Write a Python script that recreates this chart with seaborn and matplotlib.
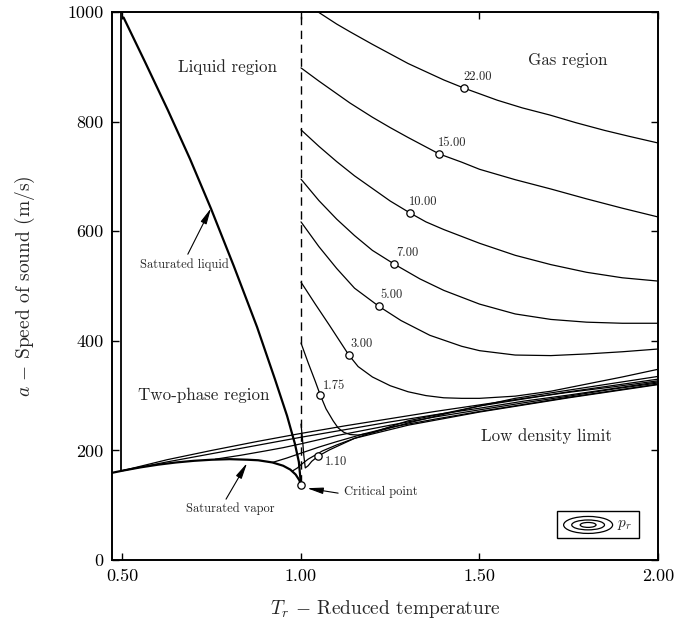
import matplotlib
matplotlib.use("Agg")
import matplotlib.pyplot as plt
from matplotlib.patches import Rectangle, Ellipse
import seaborn as sns
import pandas as pd

# ---------------- data: reduced temperature Tr vs speed of sound a (m/s) ----------------
# saturation dome
sat_liq_tr = [0.503, 0.563, 0.627, 0.689, 0.748, 0.812, 0.877, 0.927, 0.961, 0.983, 0.994, 1.0]
sat_liq_a = [990, 909, 821, 732, 641, 536, 425, 330, 263, 212, 179, 137]
sat_vap_tr = [0.47, 0.50, 0.55, 0.60, 0.65, 0.70, 0.75, 0.80, 0.85, 0.88, 0.92,
              0.95, 0.97, 0.985, 0.995, 1.0]
sat_vap_a = [159, 163, 169, 174, 178, 181, 183, 184, 183, 182, 178,
             172, 165, 156, 146, 137]

# triple-line boundary of the two-phase region
triple_tr = [0.497, 0.497]
triple_a = [163, 1000]

# supercritical isobars, labelled by reduced pressure
iso_labels = ["1.10", "1.75", "3.00", "5.00", "7.00", "10.00", "15.00", "22.00"]
iso_110_tr = [1.0, 1.004, 1.008, 1.012, 1.02, 1.03, 1.049, 1.08, 1.15, 1.3, 1.5, 1.75, 2.0]
iso_110_a = [248, 222, 190, 168, 172, 180, 190, 201, 222, 254, 281, 307, 330]
iso_175_tr = [1.0, 1.02, 1.04, 1.054, 1.07, 1.09, 1.104, 1.12, 1.137, 1.16, 1.2,
              1.3, 1.4, 1.5, 1.6, 1.75, 1.9, 2.0]
iso_175_a = [396, 360, 326, 301, 276, 254, 241, 233, 229, 228, 232,
             250, 266, 281, 295, 310, 325, 335]
iso_300_tr = [1.0, 1.04, 1.08, 1.11, 1.134, 1.16, 1.2, 1.25, 1.3, 1.35, 1.4, 1.45,
              1.5, 1.6, 1.7, 1.8, 1.9, 2.0]
iso_300_a = [507, 467, 428, 398, 374, 353, 334, 318, 307, 300, 296, 295,
             295, 299, 308, 321, 334, 348]
iso_500_tr = [1.0, 1.05, 1.1, 1.15, 1.218, 1.28, 1.361, 1.45, 1.5, 1.6, 1.7, 1.8, 1.9, 2.0]
iso_500_a = [617, 572, 532, 496, 463, 437, 410, 390, 382, 374, 373, 376, 380, 385]
iso_700_tr = [1.0, 1.05, 1.1, 1.15, 1.2, 1.261, 1.333, 1.4, 1.5, 1.6, 1.7, 1.8, 1.9, 2.0]
iso_700_a = [695, 656, 622, 592, 565, 540, 513, 492, 467, 449, 439, 434, 432, 432]
iso_1000_tr = [1.0, 1.05, 1.1, 1.15, 1.2, 1.25, 1.306, 1.35, 1.4, 1.5, 1.6, 1.7,
               1.8, 1.9, 2.0]
iso_1000_a = [785, 755, 727, 701, 678, 655, 633, 617, 603, 578, 556, 539,
              525, 515, 509]
iso_1500_tr = [1.0, 1.05, 1.1, 1.137, 1.2, 1.25, 1.3, 1.387, 1.45, 1.5, 1.6, 1.7,
               1.8, 1.9, 2.0]
iso_1500_a = [898, 874, 851, 834, 808, 789, 771, 741, 726, 713, 694, 677,
              659, 642, 626]
iso_2200_tr = [1.0, 1.048, 1.1, 1.137, 1.2, 1.3, 1.4, 1.457, 1.55, 1.62, 1.697,
               1.77, 1.85, 1.92, 2.0]
iso_2200_a = [1022, 1000, 978, 964, 941, 906, 876, 861, 839, 825, 812,
              798, 784, 773, 761]

# marked point on each isobar
mark_tr = [1.049, 1.054, 1.134, 1.218, 1.261, 1.306, 1.387, 1.457]
mark_a = [190, 301, 374, 463, 540, 633, 741, 861]

# subcritical vapour isobars and the low-density (ideal gas) limit
low_tr = [0.5, 0.625, 0.75, 0.875, 1.0, 1.125, 1.25, 1.375, 1.5, 1.625, 1.75, 1.875, 2.0]
low_a = [163, 183, 200, 216, 231, 245, 258, 271, 283, 295, 306, 316, 327]
sub1_tr = [0.5, 0.625, 0.75, 0.875, 1.0, 1.125, 1.25, 1.375, 1.5, 1.625, 1.75, 1.875, 2.0]
sub1_a = [163, 179, 194, 209, 224, 238, 252, 265, 277, 290, 301, 313, 325]
sub2_tr = [0.76, 0.83, 0.9, 0.95, 1.0, 1.1, 1.25, 1.375, 1.5, 1.625, 1.75, 1.875, 2.0]
sub2_a = [184, 191, 199, 205, 212, 227, 246, 261, 274, 287, 299, 312, 323]
sub3_tr = [0.92, 0.96, 1.0, 1.05, 1.1, 1.175, 1.25, 1.375, 1.5, 1.625, 1.75, 1.875, 2.0]
sub3_a = [178, 186, 195, 206, 216, 230, 242, 257, 271, 284, 297, 309, 321]
sub4_tr = [0.975, 0.99, 1.0, 1.02, 1.06, 1.1, 1.15, 1.3, 1.5, 1.75, 2.0]
sub4_a = [162, 168, 174, 184, 199, 210, 222, 246, 270, 296, 320]

# ---------------- styling ----------------
sns.set_theme(style="ticks")
plt.rcParams["font.family"] = ["cmr10", "DejaVu Serif"]
plt.rcParams["mathtext.fontset"] = "cm"
plt.rcParams["axes.formatter.use_mathtext"] = True
plt.rcParams["axes.unicode_minus"] = False

fig = plt.figure(figsize=(6.78, 6.26), dpi=100)
ax = fig.add_axes([112 / 678, 1 - 560 / 626, 546 / 678, 548 / 626])

K = "black"


def curve(tr, a, lw, **kw):
    df = pd.DataFrame({"Tr": tr, "a": a})
    sns.lineplot(data=df, x="Tr", y="a", ax=ax, color=K, lw=lw,
                 sort=False, estimator=None, **kw)


# saturation dome and triple line
curve(sat_liq_tr, sat_liq_a, 1.6)
curve(sat_vap_tr, sat_vap_a, 1.6)
curve(triple_tr, triple_a, 1.3)

# critical isotherm
curve([1.0, 1.0], [140, 1000], 1.0, linestyle=(0, (6, 4)))

# vapour isobars and low density limit
for tr, a in [(low_tr, low_a), (sub1_tr, sub1_a), (sub2_tr, sub2_a),
              (sub3_tr, sub3_a), (sub4_tr, sub4_a)]:
    curve(tr, a, 0.9)

# supercritical isobars
iso_tr = [iso_110_tr, iso_175_tr, iso_300_tr, iso_500_tr,
          iso_700_tr, iso_1000_tr, iso_1500_tr, iso_2200_tr]
iso_a = [iso_110_a, iso_175_a, iso_300_a, iso_500_a,
         iso_700_a, iso_1000_a, iso_1500_a, iso_2200_a]
for tr, a in zip(iso_tr, iso_a):
    curve(tr, a, 0.9)

# markers and pressure labels
sns.scatterplot(x=mark_tr, y=mark_a, ax=ax, s=28, facecolor="white",
                edgecolor=K, linewidth=0.9, zorder=5)
for lab, x, y in zip(iso_labels, mark_tr, mark_a):
    if lab == "1.10":
        ax.annotate(lab, (x, y), textcoords="offset pixels", xytext=(6, -6),
                    ha="left", va="center", fontsize=9)
    elif lab == "1.75":
        ax.annotate(lab, (x, y), textcoords="offset pixels", xytext=(3, 9),
                    ha="left", va="center", fontsize=9)
    else:
        ax.annotate(lab, (x, y), textcoords="offset pixels", xytext=(13, 11),
                    ha="center", va="center", fontsize=9)

# critical point
sns.scatterplot(x=[1.0], y=[137], ax=ax, s=28, facecolor="white",
                edgecolor=K, linewidth=0.9, zorder=6)

# region labels
ax.text(0.794, 900, "Liquid region", ha="center", va="center", fontsize=12.2)
ax.text(1.746, 911, "Gas region", ha="center", va="center", fontsize=12.2)
ax.text(0.727, 301, "Two-phase region", ha="center", va="center", fontsize=12.2)
ax.text(1.688, 226, "Low density limit", ha="center", va="center", fontsize=12.2)

arrow = dict(arrowstyle="-|>,head_length=0.8,head_width=0.16", color=K,
             lw=0.8, shrinkA=0, shrinkB=0)
ax.text(0.672, 538, "Saturated liquid", ha="center", va="center", fontsize=9)
ax.annotate("", xy=(0.748, 642), xytext=(0.683, 558), arrowprops=arrow)
ax.text(0.801, 93, "Saturated vapor", ha="center", va="center", fontsize=9)
ax.annotate("", xy=(0.849, 177), xytext=(0.790, 111), arrowprops=arrow)
ax.text(1.224, 124, "Critical point", ha="center", va="center", fontsize=9)
ax.annotate("", xy=(1.017, 131), xytext=(1.104, 122), arrowprops=arrow)

# pressure legend box
ax.add_patch(Rectangle((0.815, 0.040), 0.150, 0.049, transform=ax.transAxes,
                       fill=False, edgecolor=K, lw=1.0, zorder=7))
for w, h in [(0.0897, 0.031), (0.060, 0.018), (0.029, 0.009)]:
    ax.add_patch(Ellipse((0.872, 0.064), w, h, transform=ax.transAxes,
                         fill=False, edgecolor=K, lw=0.9, zorder=7))
ax.text(0.925, 0.064, r"$p_r$", transform=ax.transAxes, ha="left",
        va="center", fontsize=11)

# axes
ax.set_xlim(0.4706, 2.0)
ax.set_ylim(0, 1000)
ax.set_xticks([0.5, 1.0, 1.5, 2.0])
ax.set_xticklabels(["0.50", "1.00", "1.50", "2.00"])
ax.set_yticks([0, 200, 400, 600, 800, 1000])
ax.set_yticklabels(["0", "200", "400", "600", "800", "1000"])
ax.tick_params(direction="in", top=True, right=True, length=5, width=1.0,
               labelsize=13, pad=6, colors=K)
for s in ax.spines.values():
    s.set_linewidth(1.4)
    s.set_color(K)
ax.set_xlabel(r"$T_r$ $-$ Reduced temperature", fontsize=14, labelpad=10)
ax.set_ylabel(r"$a$ $-$ Speed of sound (m/s)", fontsize=14, labelpad=22)

fig.savefig("out.png", dpi=100)
